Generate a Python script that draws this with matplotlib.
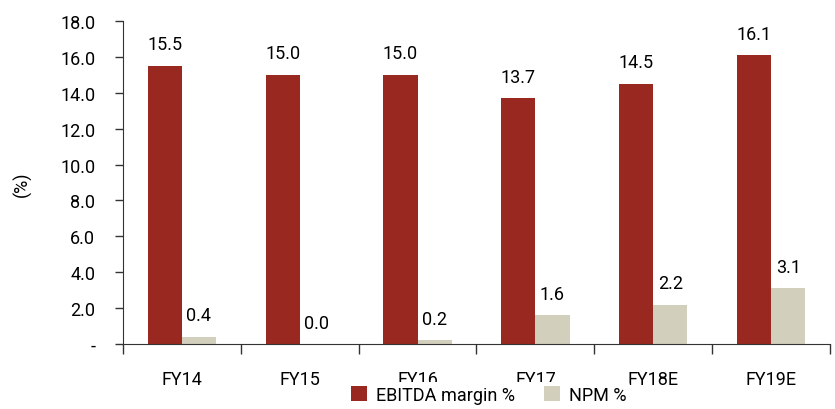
import matplotlib
matplotlib.use("Agg")
import matplotlib.pyplot as plt
import numpy as np
from matplotlib.ticker import FuncFormatter, FixedLocator

plt.rcParams['font.family'] = ['Roboto', 'DejaVu Sans']

categories = ["FY14", "FY15", "FY16", "FY17", "FY18E", "FY19E"]
ebitda = [15.5, 15.0, 15.0, 13.7, 14.5, 16.1]
npm = [0.4, 0.0, 0.2, 1.6, 2.2, 3.1]
yticks = [0, 2, 4, 6, 8, 10, 12, 14, 16, 18]

red = "#992820"
beige = "#D3CFBD"
fs = 13

fig = plt.figure(figsize=(8.35, 4.10), dpi=100)
ax = fig.add_axes([0.1473, 0.1585, 0.8467, 0.7878])

x = np.arange(len(categories))
w = 0.29
b1 = ax.bar(x - w/2, ebitda, w, color=red, label="EBITDA margin %")
b2 = ax.bar(x + w/2, npm, w, color=beige, label="NPM %")

for rect, v in zip(b1, ebitda):
    ax.annotate(f"{v:.1f}", (rect.get_x() + rect.get_width()/2, v),
                xytext=(0, 9), textcoords="offset points", ha="center", va="bottom", fontsize=fs)
for rect, v in zip(b2, npm):
    ax.annotate(f"{v:.1f}", (rect.get_x() + rect.get_width()/2, v),
                xytext=(0, 9), textcoords="offset points", ha="center", va="bottom", fontsize=fs)

ax.set_xlim(-0.5, len(categories) - 0.5)
ax.set_ylim(0, 18)
ax.set_yticks(yticks)
ax.yaxis.set_major_formatter(FuncFormatter(lambda v, p: "-" if v == 0 else f"{v:.1f}"))
ax.set_xticks(x)
ax.set_xticklabels(categories)
ax.xaxis.set_minor_locator(FixedLocator(np.arange(-0.5, len(categories), 1.0)))
ax.tick_params(axis="x", which="major", length=0, pad=19, labelsize=fs)
ax.tick_params(axis="x", which="minor", length=7, width=1, color="#333333")
ax.tick_params(axis="y", length=6, width=1, color="#333333", labelsize=fs, pad=14)

for s in ["top", "right"]:
    ax.spines[s].set_visible(False)
for s in ["left", "bottom"]:
    ax.spines[s].set_color("#333333")

fig.text(0.027, 0.55, "(%)", rotation=90, ha="center", va="center", fontsize=fs)

leg = fig.legend(handles=[b1, b2], loc="lower center", bbox_to_anchor=(0.585, -0.018),
                 ncol=2, frameon=True, fontsize=fs, handlelength=0.9, handleheight=0.9,
                 columnspacing=1.6, handletextpad=0.5, borderpad=0.2)
leg.get_frame().set_facecolor("white")
leg.get_frame().set_edgecolor("none")
leg.get_frame().set_alpha(1.0)

fig.savefig("out.png", dpi=100)
